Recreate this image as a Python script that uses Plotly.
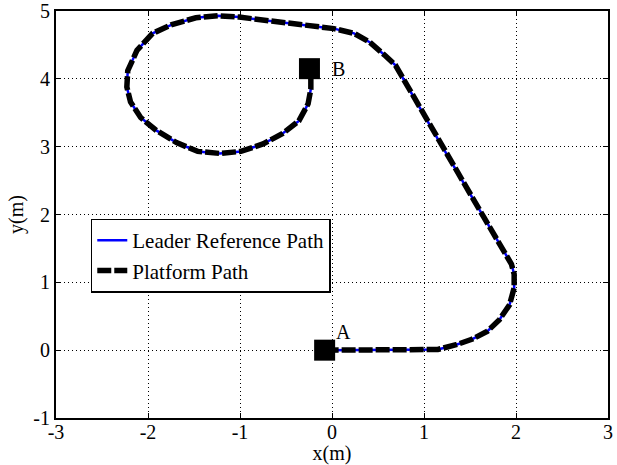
import plotly.graph_objects as go

# Path (leader reference and platform practically coincide)
path_x = [-0.08, 0.5, 1.0, 1.15, 1.35, 1.52, 1.69, 1.82, 1.93, 1.98, 1.98, 1.95, 1.65, 1.16,
          0.69, 0.58, 0.41, 0.24, 0.02, -1.01, -1.24, -1.48, -1.74, -1.95, -2.12, -2.22,
          -2.23, -2.19, -2.08, -1.91, -1.69, -1.46, -1.22, -0.99, -0.75, -0.54, -0.36,
          -0.26, -0.23, -0.23]
path_y = [0.0, 0.0, 0.0, 0.01, 0.08, 0.16, 0.28, 0.45, 0.67, 0.92, 1.12, 1.27, 1.96, 3.09,
          4.2, 4.34, 4.54, 4.67, 4.74, 4.91, 4.93, 4.90, 4.80, 4.67, 4.42, 4.12,
          3.88, 3.66, 3.43, 3.24, 3.06, 2.93, 2.90, 2.93, 3.04, 3.19, 3.38,
          3.63, 3.85, 4.05]
platform_x = path_x
platform_y = path_y

point_names = ["A", "B"]
point_x = [-0.08, -0.245]
point_y = [0.0, 4.15]
label_x = [0.12, 0.07]
label_y = [0.27, 4.15]

x_ticks = [-3, -2, -1, 0, 1, 2, 3]
x_tick_text = ["-3", "-2", "-1", "0", "1", "2", "3"]
y_ticks = [-1, 0, 1, 2, 3, 4, 5]
y_tick_text = ["-1", "0", "1", "2", "3", "4", "5"]

FONT = "Liberation Serif"

fig = go.Figure()
fig.add_trace(go.Scatter(x=path_x, y=path_y, mode="lines", name="Leader Reference Path",
                         line=dict(color="#0000ff", width=2.5)))
fig.add_trace(go.Scatter(x=platform_x, y=platform_y, mode="lines", name="Platform Path",
                         line=dict(color="black", width=5.5, dash="14px,3px")))
fig.add_trace(go.Scatter(x=point_x, y=point_y, mode="markers", showlegend=False,
                         marker=dict(symbol="square", size=21, color="black")))
for n, lx, ly in zip(point_names, label_x, label_y):
    fig.add_annotation(x=lx, y=ly, text=n, showarrow=False, xanchor="center", yanchor="middle",
                       font=dict(family=FONT, size=20, color="black"))

axis_common = dict(showline=True, linecolor="black", linewidth=2, mirror="ticks",
                   ticks="inside", ticklen=5, tickwidth=1, tickcolor="black",
                   showgrid=True, gridcolor="black", gridwidth=1, griddash="1px,3px",
                   zeroline=False, automargin=False,
                   tickfont=dict(family=FONT, size=20, color="black"),
                   title_font=dict(family=FONT, size=20, color="black"))

fig.update_xaxes(range=[-3, 3], tickvals=x_ticks, ticktext=x_tick_text, title_text="x(m)",
                 title_standoff=0, ticklabelstandoff=-5, **axis_common)
fig.update_yaxes(range=[-1, 5], tickvals=y_ticks, ticktext=y_tick_text, title_text="y(m)",
                 title_standoff=4, **axis_common)

fig.update_layout(
    width=617, height=465,
    margin=dict(l=56, r=9, t=11, b=47, autoexpand=False),
    paper_bgcolor="white", plot_bgcolor="white",
    showlegend=True,
    legend=dict(x=0.063, y=0.49, xanchor="left", yanchor="top",
                bgcolor="white", bordercolor="black", borderwidth=1.5,
                font=dict(family=FONT, size=21, color="black"),
                tracegroupgap=0, itemwidth=30),
)

fig.write_html("out.html")
